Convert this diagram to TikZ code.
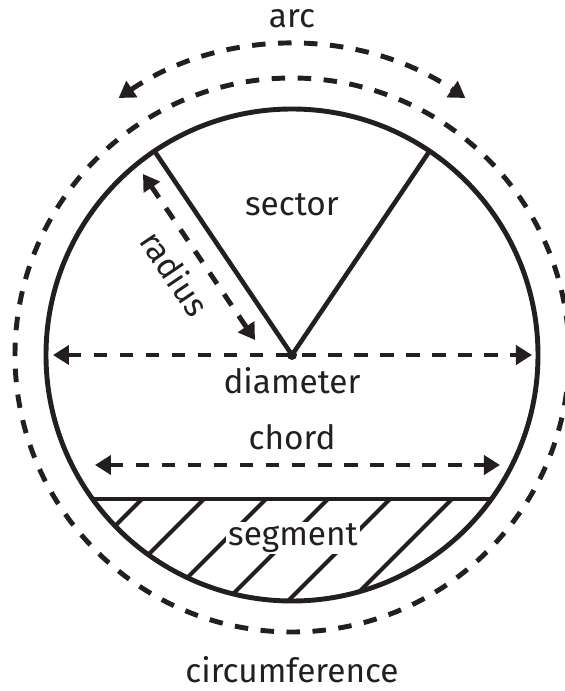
\documentclass[tikz,border=0pt]{standalone}
\usepackage{fontspec}
\setmainfont{Fira Sans}
\usetikzlibrary{arrows.meta,calc}
\definecolor{ink}{HTML}{231F20}

\begin{document}
\begin{tikzpicture}[scale=2,line join=round,draw=ink]
  \useasboundingbox (-2.92,-3.36) rectangle (2.72,3.55);
  \tikzset{
    dashline/.style={line width=2.8pt,dash pattern=on 0.27cm off 0.25cm},
    tipboth/.style={{Triangle[length=0.32cm,width=0.38cm]}-{Triangle[length=0.32cm,width=0.38cm]}},
    lbl/.style={font=\fontsize{19}{22}\selectfont,text=ink}
  }
  \coordinate (O) at (0,0);
  \coordinate (A) at (124:2.46);
  \coordinate (B) at (56:2.46);
  \coordinate (L) at (-1.994,-1.44);
  \coordinate (R) at (1.994,-1.44);
  \coordinate (D1) at (-2.39,0);
  \coordinate (D2) at (2.40,0);
  \coordinate (C1) at (-1.97,-1.10);
  \coordinate (C2) at (2.08,-1.10);
  \coordinate (R1) at (-1.49,1.81);
  \coordinate (R2) at (-0.37,0.15);
  % segment hatching
  \begin{scope}
    \clip (L) -- (R) arc[start angle=-35.84,end angle=-144.16,radius=2.46] -- cycle;
    \foreach \t in {-1.50,-0.88,-0.26,0.36,0.98,1.60}
      \draw[line width=2.4pt] (\t,-1.44) -- ++(-1.4,-1.4);
  \end{scope}
  \draw[line width=2.4pt] (L)--(R);
  \draw[line width=2.8pt] (O) circle (2.46);
  \draw[line width=2.6pt] (A)--(O)--(B);
  \fill[ink] (O) circle (0.05);
  \draw[dashline] (O) circle (2.77);
  \draw[dashline,tipboth] (124:3.10) arc[start angle=124,end angle=56,radius=3.10];
  \draw[dashline,tipboth] (R1)--(R2);
  \draw[dashline,tipboth] (D1)--(D2);
  \draw[dashline,tipboth] (C1)--(C2);
  \node[lbl] (arc) at (0,3.36) {arc};
  \node[lbl] (sector) at (0,1.50) {sector};
  \node[lbl,rotate=-56] (radius) at (-1.17,0.82) {radius};
  \node[lbl] (diameter) at (0,-0.26) {diameter};
  \node[lbl] (chord) at (0,-0.82) {chord};
  \node[lbl,fill=white,inner sep=1pt] (segment) at (0.01,-1.83) {segment};
  \node[lbl] (circumference) at (0,-3.15) {circumference};
\end{tikzpicture}
\end{document}
